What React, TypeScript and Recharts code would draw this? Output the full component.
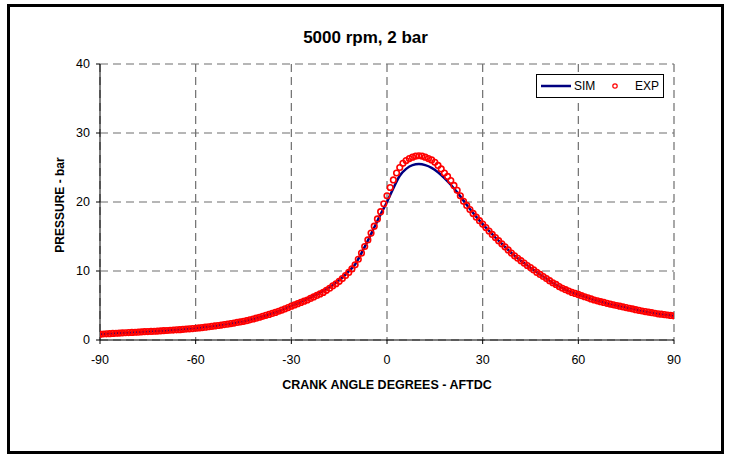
import { CartesianGrid, ComposedChart, Label, Line, Scatter, XAxis, YAxis } from 'recharts';

const FONT = '"Liberation Sans", Arial, sans-serif';

// crank angle grid of the measured points, 1 deg apart from -90
const EXP_START = -90;
const EXP_STEP = 1;
const EXP_PRESSURE = [
  0.85, 0.87, 0.9, 0.92, 0.95, 0.98, 1.0, 1.02, 1.05, 1.08, 1.1,
  1.12, 1.14, 1.17, 1.2, 1.22, 1.25, 1.27, 1.3, 1.32, 1.35,
  1.38, 1.41, 1.44, 1.47, 1.5, 1.54, 1.58, 1.62, 1.66, 1.7,
  1.75, 1.8, 1.86, 1.92, 1.98, 2.04, 2.1, 2.17, 2.24, 2.3,
  2.38, 2.46, 2.54, 2.62, 2.7, 2.8, 2.92, 3.04, 3.16, 3.3,
  3.43, 3.57, 3.71, 3.85, 4.0, 4.17, 4.34, 4.52, 4.7, 4.9,
  5.08, 5.26, 5.44, 5.62, 5.8, 6.02, 6.24, 6.46, 6.68, 6.9,
  7.2, 7.5, 7.85, 8.15, 8.5, 8.9, 9.35, 9.8, 10.3, 10.9,
  11.7, 12.6, 13.55, 14.5, 15.5, 16.5, 17.55, 18.6, 19.75, 20.9,
  22.1, 23.2, 24.2, 25.0, 25.6, 26.0, 26.3, 26.5, 26.65, 26.7,
  26.65, 26.5, 26.3, 26.1, 25.75, 25.3, 24.8, 24.2, 23.7, 23.1,
  22.4, 21.7, 20.9, 20.1, 19.5, 18.9, 18.35, 17.8, 17.3, 16.8,
  16.3, 15.8, 15.3, 14.85, 14.4, 13.95, 13.5, 13.05, 12.6, 12.2,
  11.85, 11.5, 11.15, 10.8, 10.5, 10.15, 9.8, 9.5, 9.2, 8.9,
  8.6, 8.3, 8.05, 7.75, 7.5, 7.3, 7.1, 6.9, 6.75, 6.6,
  6.43, 6.27, 6.11, 5.95, 5.8, 5.68, 5.56, 5.44, 5.32, 5.2,
  5.1, 5.0, 4.9, 4.8, 4.7, 4.6, 4.5, 4.4, 4.3, 4.2,
  4.12, 4.04, 3.96, 3.88, 3.8, 3.74, 3.68, 3.62, 3.56, 3.5,
];

// simulation output, 2 deg apart from -90
const SIM_START = -90;
const SIM_STEP = 2;
const SIM_PRESSURE = [
  0.85, 0.9, 0.95, 1.0, 1.05, 1.1, 1.14, 1.2, 1.25, 1.3,
  1.35, 1.41, 1.47, 1.54, 1.62, 1.7, 1.8, 1.92, 2.04, 2.17,
  2.3, 2.46, 2.62, 2.8, 3.04, 3.3, 3.57, 3.85, 4.17, 4.54,
  4.95, 5.3, 5.75, 6.15, 6.6, 7.1, 7.65, 8.3, 9.05, 9.95,
  10.95, 12.6, 14.4, 16.3, 18.2, 20.0, 22.0, 23.8, 24.8, 25.35,
  25.5, 25.35, 24.95, 24.3, 23.45, 22.5, 21.4, 20.2, 19.0, 17.85,
  16.8, 15.8, 14.85, 13.95, 13.05, 12.2, 11.5, 10.8, 10.15, 9.5,
  8.9, 8.3, 7.75, 7.3, 6.9, 6.6, 6.27, 5.95, 5.68, 5.44,
  5.2, 5.0, 4.8, 4.6, 4.4, 4.2, 4.04, 3.88, 3.74, 3.62,
  3.5,
];

const X_TICKS = [-90, -60, -30, 0, 30, 60, 90];
const Y_TICKS = [0, 10, 20, 30, 40];

const expData = EXP_PRESSURE.map((p, i) => ({ angle: EXP_START + i * EXP_STEP, exp: p }));
const simData = SIM_PRESSURE.map((p, i) => ({ angle: SIM_START + i * SIM_STEP, sim: p }));

const tickStyle = { fontSize: 12.5, fill: '#000', fontFamily: FONT };

function HollowCircle(props: any) {
  if (props.cx == null || props.cy == null) return null;
  return <circle cx={props.cx} cy={props.cy} r={2.8} fill="none" stroke="#ff0000" strokeWidth={1.6} />;
}

function LegendBox() {
  return (
    <div
      style={{
        position: 'absolute',
        left: 536,
        top: 74,
        width: 128,
        height: 24,
        border: '1px solid #000',
        background: '#fff',
        boxSizing: 'border-box',
        fontFamily: FONT,
        fontSize: 12,
        color: '#000',
      }}
    >
      <svg width={128} height={24} style={{ position: 'absolute', left: -1, top: -1 }}>
        <line x1={5} y1={12} x2={35} y2={12} stroke="#000080" strokeWidth={2.5} />
        <circle cx={79} cy={12} r={2.2} fill="none" stroke="#ff0000" strokeWidth={1.2} />
      </svg>
      <span style={{ position: 'absolute', left: 37, top: 4 }}>SIM</span>
      <span style={{ position: 'absolute', left: 98, top: 4 }}>EXP</span>
    </div>
  );
}

export default function App() {
  return (
    <div style={{ position: 'relative', width: 731, height: 455, background: '#fff' }}>
      <style>{'body{margin:0;}'}</style>
      <div
        style={{
          position: 'absolute',
          left: 7,
          top: 4,
          width: 717,
          height: 450,
          border: '3px solid #000',
          boxSizing: 'border-box',
        }}
      />
      <div
        style={{
          position: 'absolute',
          left: 7,
          width: 717,
          top: 28,
          textAlign: 'center',
          fontFamily: FONT,
          fontWeight: 'bold',
          fontSize: 17,
          color: '#000',
        }}
      >
        5000 rpm, 2 bar
      </div>
      <div style={{ position: 'absolute', left: 0, top: 0 }}>
        <ComposedChart width={731} height={455} margin={{ top: 64, right: 57, bottom: 65, left: 40 }}>
          <CartesianGrid stroke="#6e6e6e" strokeDasharray="8 5" strokeWidth={1.2} />
          <XAxis
            dataKey="angle"
            type="number"
            domain={[-90, 90]}
            ticks={X_TICKS}
            allowDataOverflow
            height={50}
            tick={tickStyle}
            tickSize={4}
            tickMargin={11}
            axisLine={{ stroke: '#000' }}
            tickLine={{ stroke: '#000' }}
          >
            <Label
              content={() => (
                <text x={387} y={389} textAnchor="middle" fontFamily={FONT} fontWeight="bold" fontSize={12.5} fill="#000">
                  CRANK ANGLE DEGREES - AFTDC
                </text>
              )}
            />
          </XAxis>
          <YAxis
            type="number"
            domain={[0, 40]}
            ticks={Y_TICKS}
            width={60}
            tick={tickStyle}
            tickSize={4}
            tickMargin={6}
            axisLine={{ stroke: '#000' }}
            tickLine={{ stroke: '#000' }}
          >
            <Label
              content={() => (
                <text
                  x={64}
                  y={205}
                  transform="rotate(-90 64 205)"
                  textAnchor="middle"
                  fontFamily={FONT}
                  fontWeight="bold"
                  fontSize={12}
                  fill="#000"
                >
                  PRESSURE - bar
                </text>
              )}
            />
          </YAxis>
          <Line
            data={simData}
            dataKey="sim"
            name="SIM"
            type="monotone"
            stroke="#000080"
            strokeWidth={2.5}
            dot={false}
            isAnimationActive={false}
          />
          <Scatter data={expData} dataKey="exp" name="EXP" shape={HollowCircle} isAnimationActive={false} />
        </ComposedChart>
      </div>
      <LegendBox />
    </div>
  );
}
